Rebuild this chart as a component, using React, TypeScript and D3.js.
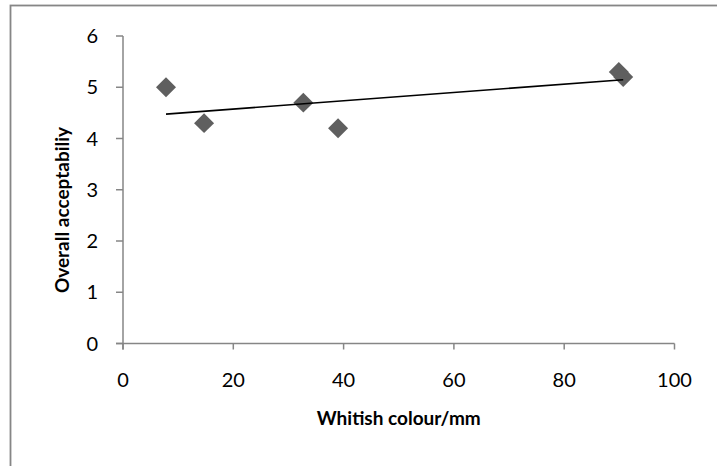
import React from "react";
import * as d3 from "d3";

const whitishColour = [7.8, 14.7, 32.7, 39.0, 89.9, 90.7];
const acceptability = [5.0, 4.3, 4.7, 4.2, 5.3, 5.2];
const xTicks = [0, 20, 40, 60, 80, 100];
const yTicks = [0, 1, 2, 3, 4, 5, 6];
const xTitle = "Whitish colour/mm";
const yTitle = "Overall acceptabiliy";

const W = 717;
const H = 466;
const FONT = "Lato, 'Open Sans', sans-serif";
const AXIS = "#868686";

export default function App() {
  const x = d3.scaleLinear().domain([0, 100]).range([123, 674.5]);
  const y = d3.scaleLinear().domain([0, 6]).range([343.5, 36]);

  const pts = whitishColour.map((v, i) => [v, acceptability[i]] as [number, number]);
  const mx = d3.mean(whitishColour) as number;
  const my = d3.mean(acceptability) as number;
  let sxy = 0, sxx = 0;
  pts.forEach(([a, b]) => { sxy += (a - mx) * (b - my); sxx += (a - mx) * (a - mx); });
  const slope = sxy / sxx;
  const icpt = my - slope * mx;
  const [xmin, xmax] = d3.extent(whitishColour) as [number, number];
  const trend = d3.line<number>().x((d) => x(d)).y((d) => y(icpt + slope * d))([xmin, xmax]);

  const diamond = d3.symbol().type(d3.symbolSquare).size(200)() as string;

  return (
    <svg width={W} height={H} style={{ position: "absolute", left: 0, top: 0, background: "#fff" }}>
      <rect x={10.5} y={5.5} width={900} height={700} fill="#fff" stroke={AXIS} strokeWidth={1.8} />
      <line x1={x(0)} x2={x(0)} y1={y(6)} y2={y(0) + 6} stroke={AXIS} strokeWidth={1.5} />
      <line x1={x(0) - 7} x2={x(100)} y1={y(0)} y2={y(0)} stroke={AXIS} strokeWidth={1.5} />
      {yTicks.map((t) => (
        <g key={"y" + t}>
          <line x1={x(0) - 7} x2={x(0)} y1={y(t)} y2={y(t)} stroke={AXIS} strokeWidth={1.5} />
          <text x={98} y={y(t)} dy="0.35em" textAnchor="end" fontFamily={FONT} fontSize={20} fill="#000">{t}</text>
        </g>
      ))}
      {xTicks.map((t) => (
        <g key={"x" + t}>
          <line x1={x(t)} x2={x(t)} y1={y(0)} y2={y(0) + 6} stroke={AXIS} strokeWidth={1.5} />
          <text x={x(t)} y={387} textAnchor="middle" fontFamily={FONT} fontSize={20} fill="#000">{t}</text>
        </g>
      ))}
      {pts.map(([a, b], i) => (
        <path key={i} d={diamond} transform={`translate(${x(a)},${y(b)}) rotate(45)`} fill="#5f5f5f" />
      ))}
      <path d={trend as string} stroke="#000" strokeWidth={1.6} fill="none" />
      <text x={(x(0) + x(100)) / 2} y={425} textAnchor="middle" fontFamily={FONT} fontSize={19} fontWeight="bold" fill="#000">{xTitle}</text>
      <text transform={`translate(69,210) rotate(-90)`} textAnchor="middle" fontFamily={FONT} fontSize={19} fontWeight="bold" fill="#000">{yTitle}</text>
    </svg>
  );
}
